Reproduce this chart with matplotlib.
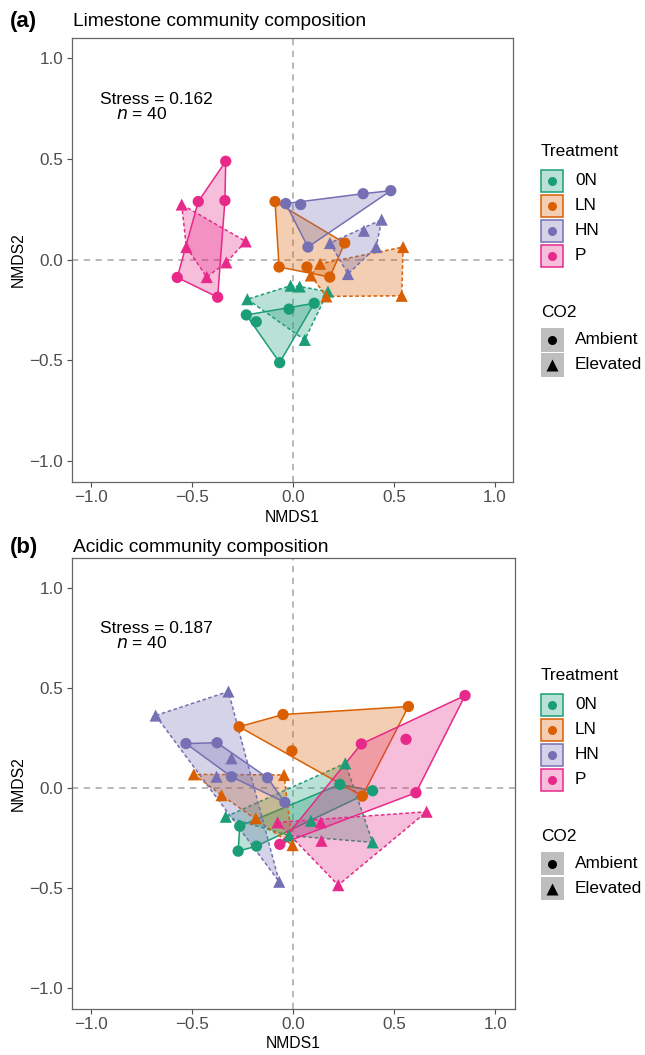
import matplotlib
matplotlib.use("Agg")
import matplotlib.pyplot as plt
import numpy as np
import pandas as pd
from matplotlib.patches import Polygon, Rectangle
from matplotlib.lines import Line2D

plt.rcParams["font.family"] = ["Liberation Sans", "DejaVu Sans"]
plt.rcParams["lines.scale_dashes"] = False

treatments = ["0N", "LN", "HN", "P"]
treat_colors = ["#1B9E77", "#D95F02", "#7570B3", "#E7298A"]
co2_levels = ["Ambient", "Elevated"]
co2_group = ["Ambient", "Ambient", "Ambient", "Ambient", "Ambient",
             "Elevated", "Elevated", "Elevated", "Elevated", "Elevated"]

# (a) limestone: first five ambient, last five elevated
lime_0N_x = [-0.231, -0.182, -0.020, 0.105, -0.066, -0.226, -0.012, 0.033, 0.058, 0.173]
lime_0N_y = [-0.274, -0.308, -0.245, -0.216, -0.511, -0.196, -0.129, -0.133, -0.398, -0.158]
lime_LN_x = [-0.089, -0.069, 0.069, 0.182, 0.256, 0.134, 0.088, 0.165, 0.545, 0.538]
lime_LN_y = [0.289, -0.036, -0.036, -0.086, 0.083, -0.020, -0.078, -0.182, 0.063, -0.179]
lime_HN_x = [-0.036, 0.038, 0.347, 0.484, 0.074, 0.183, 0.351, 0.439, 0.412, 0.272]
lime_HN_y = [0.279, 0.274, 0.328, 0.343, 0.063, 0.083, 0.144, 0.199, 0.063, -0.071]
lime_P_x = [-0.333, -0.469, -0.337, -0.573, -0.373, -0.551, -0.234, -0.528, -0.330, -0.427]
lime_P_y = [0.489, 0.289, 0.294, -0.088, -0.186, 0.274, 0.091, 0.063, -0.013, -0.086]

# (b) acidic
acid_0N_x = [-0.264, -0.181, -0.272, 0.231, 0.393, -0.333, 0.258, 0.393, 0.088, -0.020]
acid_0N_y = [-0.193, -0.293, -0.318, 0.016, -0.016, -0.146, 0.121, -0.274, -0.166, -0.240]
acid_LN_x = [-0.267, -0.050, -0.006, 0.342, 0.570, -0.491, -0.045, -0.354, -0.003, -0.185]
acid_LN_y = [0.304, 0.365, 0.183, -0.043, 0.405, 0.066, 0.063, -0.038, -0.288, -0.154]
acid_HN_x = [-0.530, -0.376, -0.305, -0.127, -0.041, -0.680, -0.320, -0.379, -0.305, -0.069]
acid_HN_y = [0.220, 0.224, 0.054, 0.049, -0.074, 0.360, 0.480, 0.054, 0.146, -0.471]
acid_P_x = [0.337, 0.558, 0.607, -0.066, 0.850, 0.660, 0.223, 0.140, 0.137, -0.077]
acid_P_y = [0.218, 0.241, -0.026, -0.284, 0.460, -0.121, -0.488, -0.266, -0.174, -0.174]

lime_stress = "0.162"
acid_stress = "0.187"
n_plots = 40


def make_df(xs, ys):
    frames = []
    for t, x, y in zip(treatments, xs, ys):
        frames.append(pd.DataFrame({"NMDS1": x, "NMDS2": y, "Treatment": t, "CO2": co2_group}))
    return pd.concat(frames, ignore_index=True)


lime = make_df([lime_0N_x, lime_LN_x, lime_HN_x, lime_P_x],
               [lime_0N_y, lime_LN_y, lime_HN_y, lime_P_y])
acid = make_df([acid_0N_x, acid_LN_x, acid_HN_x, acid_P_x],
               [acid_0N_y, acid_LN_y, acid_HN_y, acid_P_y])


def hull(pts):
    pts = sorted(map(tuple, pts))

    def cross(o, a, b):
        return (a[0] - o[0]) * (b[1] - o[1]) - (a[1] - o[1]) * (b[0] - o[0])

    lower, upper = [], []
    for p in pts:
        while len(lower) >= 2 and cross(lower[-2], lower[-1], p) <= 0:
            lower.pop()
        lower.append(p)
    for p in reversed(pts):
        while len(upper) >= 2 and cross(upper[-2], upper[-1], p) <= 0:
            upper.pop()
        upper.append(p)
    return np.array(lower[:-1] + upper[:-1])


W, H = 645, 1055


def fx(px):
    return px / W


def fy(py):
    return 1 - py / H


fig = plt.figure(figsize=(W / 100, H / 100), dpi=100)

dash_zero = (0, (4.5, 4))
dash_elev = (0, (2.6, 1.8))
tick_col = "#4D4D4D"
frame_col = "#666666"


def draw_panel(box, df, xlim, ylim, stress, tag, title, title_y, xlab_y):
    left, top, right, bottom = box
    ax = fig.add_axes([fx(left), fy(bottom), fx(right) - fx(left), fy(top) - fy(bottom)])
    ax.axhline(0, color="#A6A6A6", lw=1.1, ls=dash_zero, zorder=0)
    ax.axvline(0, color="#A6A6A6", lw=1.1, ls=dash_zero, zorder=0)

    for t, c in zip(treatments, treat_colors):
        for lvl in co2_levels:
            sub = df[(df["Treatment"] == t) & (df["CO2"] == lvl)]
            h = hull(sub[["NMDS1", "NMDS2"]].values)
            ls = "-" if lvl == "Ambient" else dash_elev
            ax.add_patch(Polygon(h, closed=True, facecolor=c, alpha=0.3,
                                 edgecolor="none", zorder=2))
            ax.add_patch(Polygon(h, closed=True, fill=False, edgecolor=c,
                                 lw=1.1, linestyle=ls, zorder=2))
    for t, c in zip(treatments, treat_colors):
        for lvl, mk, s in [("Ambient", "o", 66), ("Elevated", "^", 76)]:
            sub = df[(df["Treatment"] == t) & (df["CO2"] == lvl)]
            ax.scatter(sub["NMDS1"], sub["NMDS2"], marker=mk, s=s, color=c,
                       edgecolors="none", zorder=3)

    ax.text(-0.955, 0.795, "Stress = " + stress, fontsize=12.5, va="center", ha="left")
    ax.text(-0.875, 0.722, r"$\it{n}$ = " + str(n_plots), fontsize=12.5, va="center", ha="left")

    ax.set_xlim(*xlim)
    ax.set_ylim(*ylim)
    ticks = [-1.0, -0.5, 0.0, 0.5, 1.0]
    ax.set_xticks(ticks)
    ax.set_yticks(ticks)
    ax.set_xticklabels([f"{v:.1f}".replace("-", "\u2212") for v in ticks])
    ax.set_yticklabels([f"{v:.1f}".replace("-", "\u2212") for v in ticks])
    ax.tick_params(length=3.5, width=0.8, color=tick_col, labelcolor=tick_col,
                   labelsize=12.3, pad=2.5)
    for sp in ax.spines.values():
        sp.set_color(frame_col)
        sp.set_linewidth(0.9)

    fig.text(fx((left + right) / 2), fy(xlab_y), "NMDS1", ha="center", va="center", fontsize=11.3)
    fig.text(fx(18), fy((top + bottom) / 2), "NMDS2", ha="center", va="center",
             rotation=90, fontsize=11.3)
    fig.text(fx(10), fy(title_y), tag, fontsize=16, fontweight="bold", ha="left", va="center")
    fig.text(fx(left + 1), fy(title_y), title, fontsize=13.8, ha="left", va="center")

    # legends
    cy = (top + bottom) / 2
    kx, kw = 540.7, 23.3
    fig.text(fx(kx), fy(cy - 108), "Treatment", fontsize=12.4, ha="left", va="center")
    for i, (t, c) in enumerate(zip(treatments, treat_colors)):
        ky = cy - 79 + 25 * i
        fig.add_artist(Rectangle((fx(kx), fy(ky + kw / 2)), kw / W, kw / H,
                                 transform=fig.transFigure, facecolor="white",
                                 edgecolor="none"))
        fig.add_artist(Rectangle((fx(kx + 0.6), fy(ky + kw / 2 - 0.6)), (kw - 1.2) / W, (kw - 1.2) / H,
                                 transform=fig.transFigure, facecolor=c, alpha=0.3,
                                 edgecolor="none"))
        fig.add_artist(Rectangle((fx(kx + 0.6), fy(ky + kw / 2 - 0.6)), (kw - 1.2) / W, (kw - 1.2) / H,
                                 transform=fig.transFigure, fill=False, edgecolor=c, lw=1.1))
        fig.add_artist(Line2D([fx(kx + kw / 2)], [fy(ky)], marker="o", ms=6.5, color=c,
                              mec="none", transform=fig.transFigure))
        fig.text(fx(575), fy(ky), t, fontsize=12.4, ha="left", va="center")

    fig.text(fx(kx), fy(cy + 52.5), "CO2", fontsize=12.4, ha="left", va="center")
    for i, (lvl, mk, ms) in enumerate([("Ambient", "o", 6.5), ("Elevated", "^", 8.0)]):
        ky = cy + 80 + 25 * i
        fig.add_artist(Rectangle((fx(kx), fy(ky + kw / 2)), kw / W, kw / H,
                                 transform=fig.transFigure, facecolor="#BEBEBE",
                                 edgecolor="none"))
        fig.add_artist(Line2D([fx(kx + kw / 2)], [fy(ky)], marker=mk, ms=ms, color="black",
                              mec="none", transform=fig.transFigure))
        fig.text(fx(575), fy(ky), lvl, fontsize=12.4, ha="left", va="center")
    return ax


draw_panel((71.7, 38, 513, 481.7), lime, (-1.0955, 1.089), (-1.102, 1.101),
           lime_stress, "(a)", "Limestone community composition", 21, 518)
draw_panel((71.7, 558.3, 515, 1009), acid, (-1.095, 1.097), (-1.107, 1.146),
           acid_stress, "(b)", "Acidic community composition", 548, 1043)

fig.savefig("out.png", dpi=100)
